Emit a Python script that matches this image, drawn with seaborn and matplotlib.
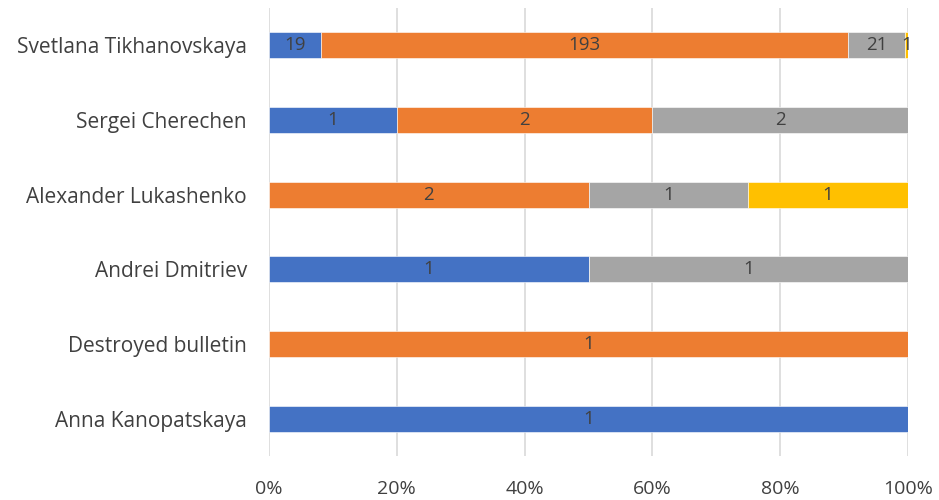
import numpy as np
import matplotlib
matplotlib.use("Agg")
import matplotlib.pyplot as plt
import seaborn as sns
from matplotlib.ticker import PercentFormatter

# data, listed bottom to top
candidates = ["Anna Kanopatskaya", "Destroyed bulletin", "Andrei Dmitriev",
              "Alexander Lukashenko", "Sergei Cherechen", "Svetlana Tikhanovskaya"]
series_a = [1, 0, 1, 0, 1, 19]
series_b = [0, 1, 0, 2, 2, 193]
series_c = [0, 0, 1, 1, 2, 21]
series_d = [0, 0, 0, 1, 0, 1]
colors = ["#4472C4", "#ED7D31", "#A5A5A5", "#FFC000"]

sns.set_style("white")
plt.rcParams["font.family"] = ["Open Sans", "DejaVu Sans"]

fig = plt.figure(figsize=(9.39, 5), dpi=100)
ax = fig.add_axes([0.2865, 0.088, 0.6805, 0.896])

counts = np.array([series_a, series_b, series_c, series_d], dtype=float)
totals = counts.sum(axis=0)
shares = counts / totals
y = np.arange(len(candidates))

left = np.zeros(len(candidates))
for i in range(counts.shape[0]):
    bars = ax.barh(y, shares[i], left=left, height=0.35, color=colors[i],
                   edgecolor="white", linewidth=0.4, zorder=2)
    labels = [f"{int(v)}" if v > 0 else "" for v in counts[i]]
    ax.bar_label(bars, labels=labels, label_type="center",
                 fontsize=13.5, color="#404040")
    left += shares[i]

ax.set_xlim(0, 1)
ax.set_ylim(-0.5, len(candidates) - 0.5)
ax.set_xticks(np.arange(0, 1.01, 0.2))
ax.xaxis.set_major_formatter(PercentFormatter(1.0, decimals=0))
ax.set_yticks(y)
ax.set_yticklabels(candidates)
ax.grid(axis="x", color="#D9D9D9", linewidth=1.2, zorder=0)
ax.tick_params(axis="both", length=0, labelsize=14, labelcolor="#404040")
ax.tick_params(axis="y", labelsize=15, pad=16)
ax.tick_params(axis="x", pad=17)
for s in ax.spines.values():
    s.set_visible(False)

fig.savefig("out.png", dpi=100)
